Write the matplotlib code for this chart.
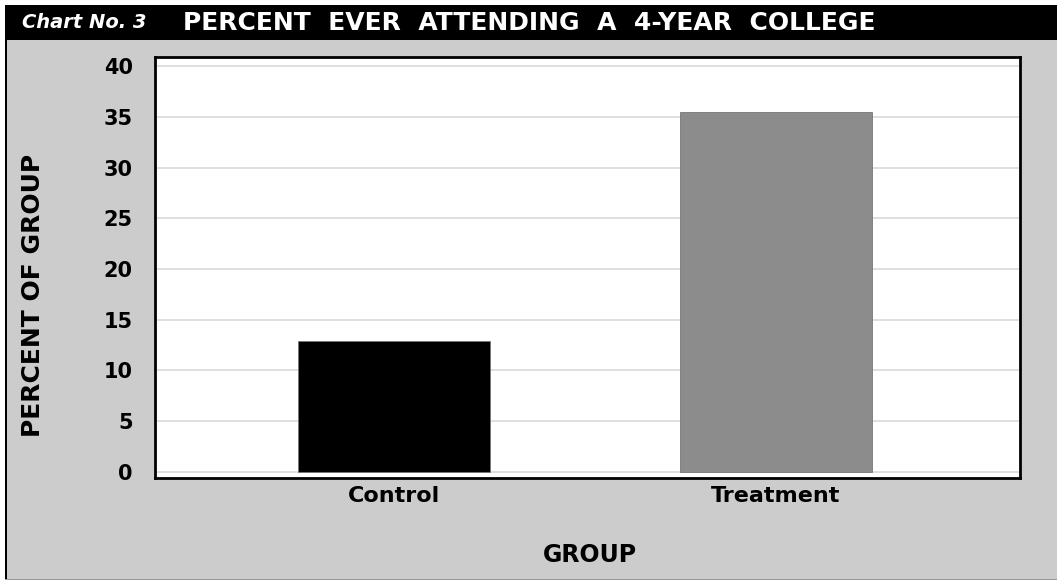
import matplotlib
matplotlib.use('Agg')
import matplotlib.pyplot as plt
from matplotlib.patches import Rectangle

# data
groups = ['Control', 'Treatment']
percent = [12.9, 35.5]
bar_colors = ['#000000', '#8c8c8c']
yticks = [0, 5, 10, 15, 20, 25, 30, 35, 40]

plt.rcParams['font.family'] = ['DejaVu Sans']

W, H = 1057, 580
fig = plt.figure(figsize=(W / 100, H / 100), dpi=100)
fig.patch.set_facecolor('white')

# gray body, left border, header bar
fig.patches.append(Rectangle((5 / W, 0), 1, 1 - 40 / H, transform=fig.transFigure,
                             facecolor='#cccccc', edgecolor='none', zorder=0))
fig.patches.append(Rectangle((5 / W, 0), 2 / W, 1 - 5 / H, transform=fig.transFigure,
                             facecolor='black', edgecolor='none', zorder=1))
fig.patches.append(Rectangle((5 / W, 0), 1, 1.5 / H, transform=fig.transFigure,
                             facecolor='#999999', edgecolor='none', zorder=1))
fig.patches.append(Rectangle((5 / W, 1 - 40 / H), 1, 35 / H, transform=fig.transFigure,
                             facecolor='black', edgecolor='none', zorder=1))

fig.text(22 / W, 1 - 23 / H, 'Chart No. 3', color='white', fontsize=14,
         fontweight='bold', style='italic', va='center', ha='left')
fig.text(183 / W, 1 - 23 / H, 'PERCENT  EVER  ATTENDING  A  4-YEAR  COLLEGE',
         color='white', fontsize=18, fontweight='bold', va='center', ha='left')

# plot area
left, right, top, bottom = 155, 1020, 57, 478
ax = fig.add_axes([left / W, 1 - bottom / H, (right - left) / W, (bottom - top) / H])
ax.set_zorder(5)
ax.set_facecolor('white')

x = range(len(groups))
ax.bar(x, percent, width=0.505, color=bar_colors, edgecolor='#777777',
       linewidth=0.6, zorder=3)

ax.set_xlim(-0.626, 1.639)
ax.set_ylim(-0.62, 40.92)
ax.set_yticks(yticks)
ax.set_yticklabels([str(t) for t in yticks])
ax.set_xticks(list(x))
ax.set_xticklabels(groups)
ax.yaxis.grid(True, color='#d9d9d9', linewidth=1.2, zorder=0)
ax.tick_params(axis='y', length=0, labelsize=15, pad=16)
ax.tick_params(axis='x', length=0, labelsize=16, pad=6)
for lbl in ax.get_xticklabels() + ax.get_yticklabels():
    lbl.set_fontweight('bold')
for sp in ax.spines.values():
    sp.set_linewidth(2)
    sp.set_color('black')

fig.text(33 / W, 1 - 295 / H, 'PERCENT OF GROUP', rotation=90, fontsize=18,
         fontweight='bold', va='center', ha='center')
fig.text(590 / W, 1 - 555 / H, 'GROUP', fontsize=17, fontweight='bold',
         va='center', ha='center')

fig.savefig('out.png', dpi=100)
